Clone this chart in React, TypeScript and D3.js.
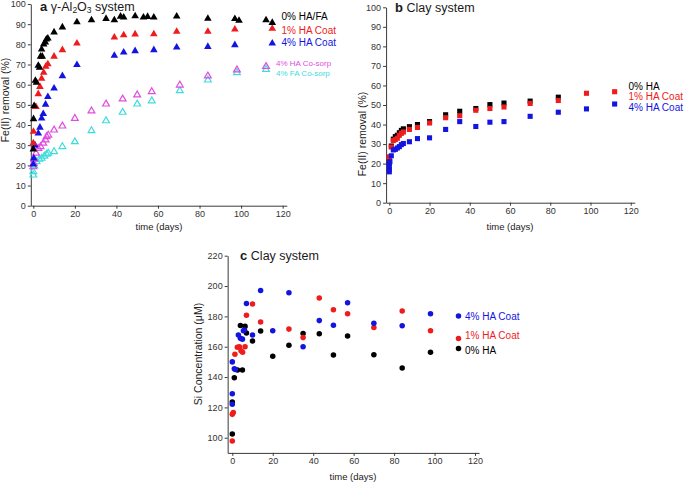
import React, { useEffect, useRef } from "react";
import * as d3 from "d3";

type Pt = [number, number]; // [day, value]

// ---- panel a: gamma-Al2O3 system, Fe(II) removal (%) ----
const alNone: Pt[] = [
  [0, 28], [0.1, 43], [0.4, 49.5], [1, 62], [1.5, 61], [2.4, 69.5], [3, 68.5],
  [3.5, 74], [4.3, 74], [4, 77.5], [5, 80], [5.8, 81], [6.3, 82.5], [7, 83],
  [10, 86], [14, 88.5], [21, 91], [28, 92], [35, 92.7], [39, 92], [42, 93.8],
  [43.5, 93.4], [49, 94], [53, 93.4], [55, 93.7], [58, 93.4], [69, 93.9],
  [84, 92.8], [97, 92.6], [99, 91.8], [112, 92], [115, 90.7],
];
const alHA1: Pt[] = [
  [0, 31], [0.1, 36.7], [0.8, 49], [1.3, 49], [2.4, 55.4], [3.2, 59], [4, 63],
  [5, 66], [6, 69], [7, 70.2], [10, 74], [14, 77.2], [21, 80.5], [39, 83.5],
  [43.5, 84.6], [49, 85], [58, 85.1], [69, 86.3], [84, 86.3], [97, 87.4], [115, 87.8],
];
const alHA4: Pt[] = [
  [0, 20.5], [0.2, 23.5], [0.8, 30], [2.4, 35.9], [3.2, 38.8], [4, 43.3],
  [4.8, 45.5], [5.9, 50.2], [7, 54], [10, 58.2], [14, 64.3], [21, 69.8],
  [39, 74.4], [43.5, 76], [49, 76.7], [58, 77.2], [69, 78.5], [84, 78.8],
  [97, 79.7], [115, 80.5],
];
const alHACosorp: Pt[] = [
  [0, 19.3], [0.2, 21], [0.5, 23], [1.3, 26], [2.4, 28.4], [3.5, 29.3], [4.8, 31],
  [5.9, 32.6], [6.4, 34.2], [7.2, 35], [10, 37.5], [14, 39.5], [20, 43.3],
  [28, 47], [35, 50.4], [43, 52.9], [50, 54.9], [57, 56.5], [70.5, 59.8],
  [84, 64.3], [98, 67.3], [112, 69],
];
const alFACosorp: Pt[] = [
  [0, 15.2], [0, 16.9], [0.5, 19.7], [1.6, 21.8], [2.9, 23], [4, 23.5],
  [5.3, 24.6], [6.4, 25.6], [7.2, 26], [10, 26.8], [14, 29.3], [20, 31.7],
  [28, 37.2], [35, 42.1], [43, 46.3], [50, 50.4], [57, 52], [70.5, 57],
  [84, 62.3], [98, 66], [112, 67.6],
];

// ---- panel b: clay system, Fe(II) removal (%) ----
const clayNone: Pt[] = [
  [0, 21], [1, 29], [2, 32.5], [3, 33.8], [4, 34.5], [5, 35.8], [6, 37],
  [7, 37.8], [10, 38.9], [14, 40], [20, 41.5], [28, 45], [35, 46.8],
  [43, 48.2], [50, 50.2], [57, 51], [70, 52], [84, 54],
];
const clayHA1: Pt[] = [
  [0, 22.8], [0, 23.5], [1, 28.5], [2, 31.8], [3, 32.3], [4, 33], [5, 34.5],
  [6, 35.5], [7, 36.2], [10, 37.5], [14, 38.5], [20, 40.8], [28, 43.5],
  [35, 44.5], [43, 47.3], [50, 48.2], [57, 49], [70, 50.8], [84, 52.3],
  [98, 56], [112, 56.8],
];
const clayHA4: Pt[] = [
  [0, 15.8], [0, 17], [0, 18.5], [0, 20.2], [0.3, 21], [1, 24], [2, 27],
  [3, 27.3], [4, 28], [5, 28.7], [6, 29.7], [7, 30.3], [10, 31.2], [14, 32.8],
  [20, 33.2], [28, 37.5], [35, 41.5], [43, 39], [50, 41.2], [57, 41.5],
  [70, 44.2], [84, 46.3], [98, 48], [112, 50.5],
];

// ---- panel c: clay system, Si concentration (uM) ----
const siHA4: Pt[] = [
  [0, 150], [0, 129], [0, 122], [1, 145.5], [1.5, 145], [3, 167.7], [4, 165.5],
  [5, 165], [5.5, 170.5], [6, 171], [7, 188.5], [10, 167.7], [14, 197],
  [20, 170.5], [28, 195.6], [35, 160], [43, 177.2], [50, 174.2], [57, 189],
  [70, 175.5], [84, 173.8], [98, 181.7],
];
const siHA1: Pt[] = [
  [0, 97.8], [0, 115.4], [0.5, 116.7], [1.3, 155], [2.5, 159.6], [3.5, 160],
  [4.3, 157.4], [5.1, 156.3], [6.3, 160], [7, 180.7], [10, 188.1], [14, 176.3],
  [28, 171.6], [35, 166], [43, 192.1], [50, 184.4], [57, 181.8], [70, 172.7],
  [84, 183.5], [98, 170.5],
];
const siNone: Pt[] = [
  [0, 102.4], [0, 123.5], [1, 139.6], [2.6, 144.6], [4, 174], [5, 144.6],
  [6.3, 173.4], [7, 169], [10, 163.8], [14, 170.3], [20, 153.7], [28, 160.9],
  [35, 168.7], [43, 168.6], [50, 154.5], [57, 167], [70, 154.7], [84, 145.9],
  [98, 156.3],
];

const dayTicks = [0, 20, 40, 60, 80, 100, 120];
const removalTicks = [0, 10, 20, 30, 40, 50, 60, 70, 80, 90, 100];
const siTicks = [100, 120, 140, 160, 180, 200, 220];

const RED = "#ee1c1c";
const BLUE = "#1414e0";
const MAGENTA = "#e04ce0";
const CYAN = "#40dcdc";
const AXIS = "#3a3a3a";
const FONT = "'Liberation Sans', Arial, sans-serif";

const App = () => {
  const ref = useRef<SVGSVGElement>(null);

  useEffect(() => {
    const svg = d3.select(ref.current);
    svg.selectAll("*").remove();
    svg.attr("width", 685).attr("height", 482).style("font-family", FONT);

    // builds the two scales and draws both axes for one panel
    const panel = (o: any) => {
      const x = d3
        .scaleLinear()
        .domain([-o.xOff, 122])
        .range([o.x0 - o.xOff * o.kx, o.x0 + 122 * o.kx]);
      const y = d3.scaleLinear().domain(o.yDom).range(o.yRange);
      const g = svg.append("g");

      const xa = g
        .append("g")
        .attr("transform", `translate(0,${y(o.yDom[0])})`)
        .call(d3.axisBottom(x).tickValues(dayTicks).tickSize(3).tickSizeOuter(0).tickPadding(2));
      const ya = g
        .append("g")
        .attr("transform", `translate(${x(-o.xOff)},0)`)
        .call(d3.axisLeft(y).tickValues(o.yTicks).tickSize(3).tickSizeOuter(0).tickPadding(2));
      [xa, ya].forEach((a) => {
        a.selectAll("path,line").attr("stroke", AXIS);
        a.selectAll("text").attr("fill", "#333").style("font-size", "9px").style("font-family", FONT);
      });

      g.append("text")
        .attr("x", o.xLabel[0])
        .attr("y", o.xLabel[1])
        .attr("text-anchor", "middle")
        .style("font-size", "9.5px")
        .attr("fill", "#222")
        .text("time (days)");
      g.append("text")
        .attr("transform", `translate(${o.yLabel[0]},${o.yLabel[1]}) rotate(-90)`)
        .attr("text-anchor", "middle")
        .style("font-size", "10.5px")
        .attr("fill", "#222")
        .text(o.yText);
      return { x, y, g };
    };

    const dots = (p: any, data: Pt[], type: any, size: number, color: string, hollow = false) => {
      const sym = d3.symbol().type(type).size(size);
      p.g.append("g")
        .selectAll("path")
        .data(data)
        .enter()
        .append("path")
        .attr("transform", (d: Pt) => `translate(${p.x(d[0])},${p.y(d[1])})`)
        .attr("d", sym)
        .attr("fill", hollow ? "none" : color)
        .attr("stroke", hollow ? color : "none")
        .attr("stroke-width", hollow ? 1.2 : 0);
    };

    // title with optional subscript pieces (dy shifted)
    const title = (x: number, y: number, letter: string, parts: [string, boolean][]) => {
      const t = svg.append("text").attr("x", x).attr("y", y).attr("fill", "#1a1a1a").style("font-size", "12.5px");
      t.append("tspan").style("font-weight", "bold").style("font-size", "13px").text(letter + " ");
      let down = false;
      parts.forEach(([s, sub]) => {
        const ts = t.append("tspan").text(s);
        if (sub && !down) ts.attr("dy", 2.5);
        if (!sub && down) ts.attr("dy", -2.5);
        if (sub) ts.style("font-size", "8.5px");
        down = sub;
      });
    };

    const legend = (x: number, items: [string, string, number][], size: string) => {
      items.forEach(([label, color, yy]) => {
        svg.append("text").attr("x", x).attr("y", yy).attr("fill", color).style("font-size", size).text(label);
      });
    };

    // ---- a ----
    const pa = panel({
      x0: 33.3, kx: 2.078, xOff: 1.2,
      yDom: [0, 100], yRange: [205.7, 4], yTicks: removalTicks,
      xLabel: [159, 230], yLabel: [9, 100], yText: "Fe(II) removal (%)",
    });
    dots(pa, alFACosorp, d3.symbolTriangle, 20, CYAN, true);
    dots(pa, alHACosorp, d3.symbolTriangle, 20, MAGENTA, true);
    dots(pa, alHA4, d3.symbolTriangle, 25, BLUE);
    dots(pa, alHA1, d3.symbolTriangle, 25, RED);
    dots(pa, alNone, d3.symbolTriangle, 25, "#000");
    title(40, 10.5, "a", [["γ-Al", false], ["2", true], ["O", false], ["3", true], [" system", false]]);
    legend(281.5, [["0% HA/FA", "#000", 20], ["1% HA Coat", RED, 33.5], ["4% HA Coat", BLUE, 46]], "10px");
    legend(276, [["4% HA Co-sorp", MAGENTA, 65.5], ["4% FA Co-sorp", CYAN, 76]], "8px");

    // ---- b ----
    const pb = panel({
      x0: 389.3, kx: 2.012, xOff: 1.6,
      yDom: [0, 100], yRange: [202.7, 7.3], yTicks: removalTicks,
      xLabel: [510, 229.5], yLabel: [366, 134], yText: "Fe(II) removal (%)",
    });
    dots(pb, clayNone, d3.symbolSquare, 26, "#000");
    dots(pb, clayHA1, d3.symbolSquare, 26, RED);
    dots(pb, clayHA4, d3.symbolSquare, 26, BLUE);
    title(395, 11.5, "b", [["Clay system", false]]);
    legend(628.5, [["0% HA", "#000", 89.5], ["1% HA Coat", RED, 100], ["4% HA Coat", BLUE, 110.5]], "10px");

    // ---- c ----
    const pc = panel({
      x0: 232.3, kx: 2.0225, xOff: 2.3,
      yDom: [90, 220], yRange: [452.9, 255.7], yTicks: siTicks,
      xLabel: [353, 479.5], yLabel: [201.5, 354], yText: "Si Concentration (μM)",
    });
    dots(pc, siNone, d3.symbolCircle, 24, "#000");
    dots(pc, siHA1, d3.symbolCircle, 24, RED);
    dots(pc, siHA4, d3.symbolCircle, 24, BLUE);
    title(240, 259.5, "c", [["Clay system", false]]);
    const legC: [string, string, number, number][] = [
      ["4% HA Coat", BLUE, 316, 319.5],
      ["1% HA Coat", RED, 338.5, 338.5],
      ["0% HA", "#000", 348.5, 353.5],
    ];
    legC.forEach(([label, color, dy, ty]) => {
      svg.append("circle").attr("cx", 458.5).attr("cy", dy).attr("r", 2.75).attr("fill", color);
      svg.append("text").attr("x", 465).attr("y", ty).attr("fill", color).style("font-size", "10px").text(label);
    });
  }, []);

  return <svg ref={ref} style={{ position: "absolute", left: 0, top: 0 }}></svg>;
};

export default App;
